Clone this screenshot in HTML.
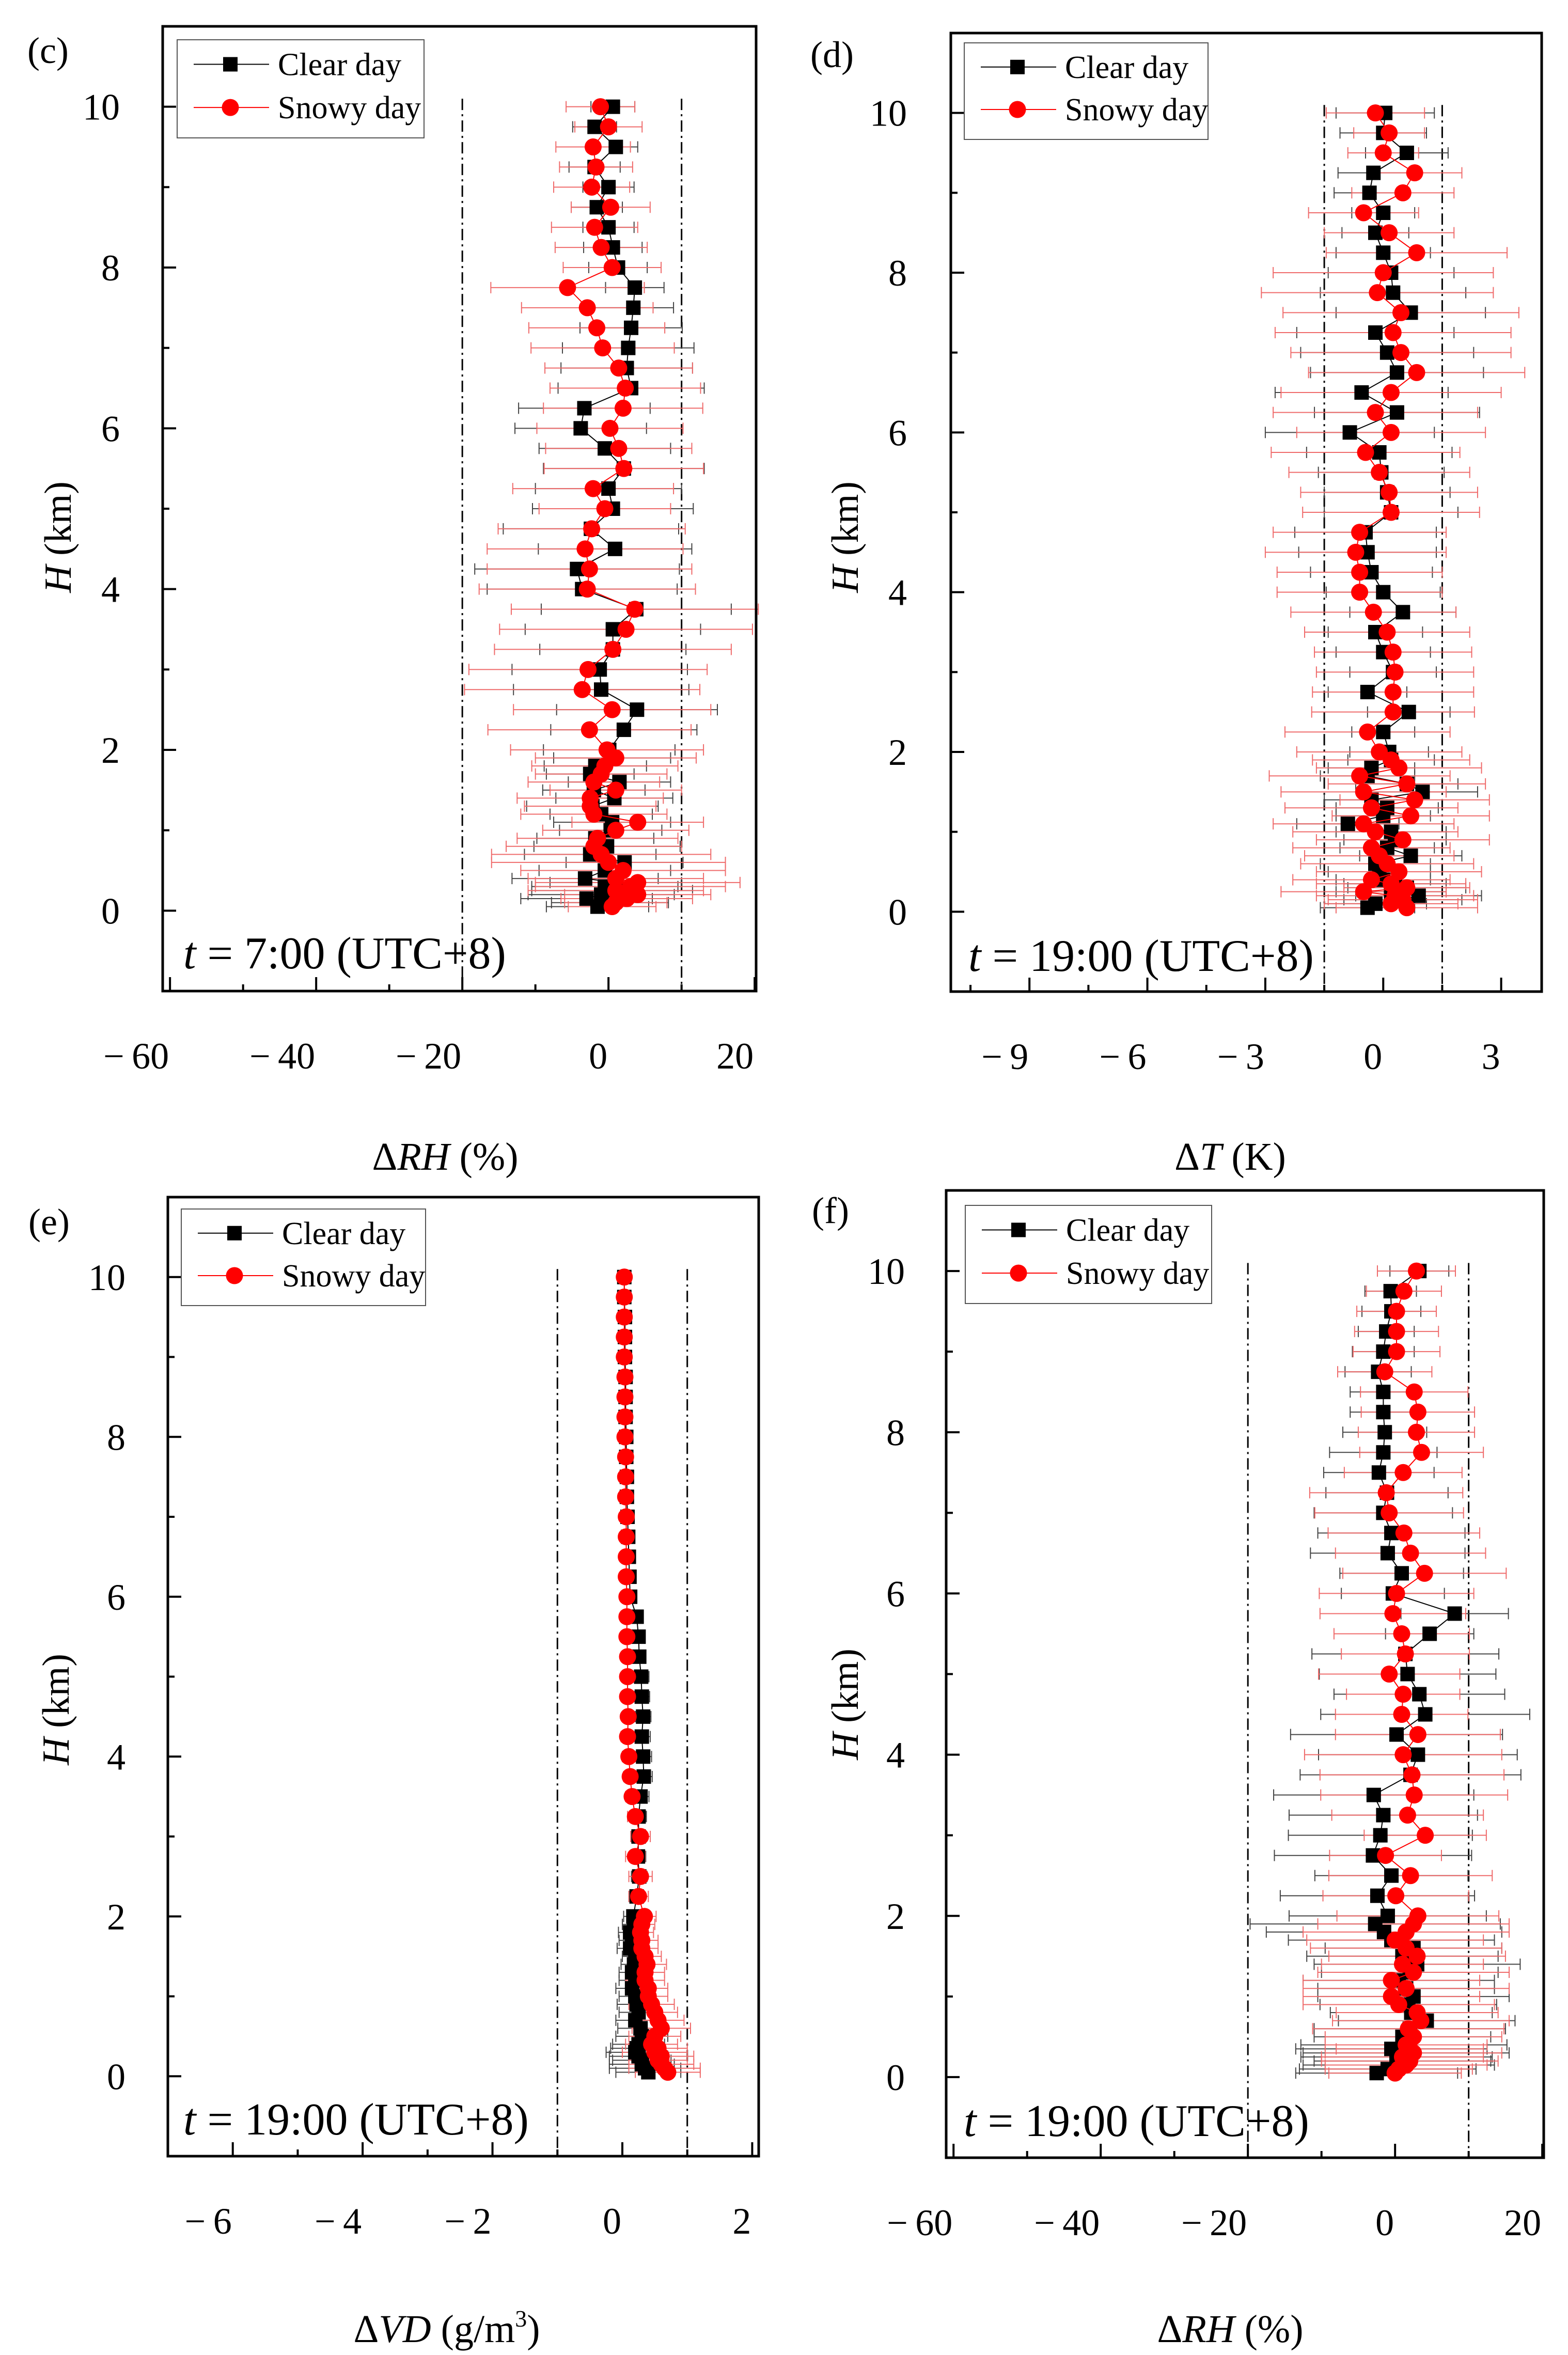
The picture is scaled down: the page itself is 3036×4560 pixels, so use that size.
<!DOCTYPE html>
<html><head><meta charset="utf-8"><style>
html,body{margin:0;padding:0;background:#fff}
svg{display:block}
text{font-family:"Liberation Serif",serif;fill:#000}
</style></head><body>
<svg id="fig" width="3036" height="4560" viewBox="0 0 3036 4560" xmlns="http://www.w3.org/2000/svg">
<rect width="3036" height="4560" fill="#fff"/>
</svg>
<script>
// Heights (km), shared by all series
const heights = [0.05,0.1,0.15,0.2,0.25,0.3,0.35,0.4,0.5,0.6,0.7,0.8,0.9,1.0,1.1,1.2,1.3,1.4,1.5,1.6,1.7,1.8,1.9,
 2.0,2.25,2.5,2.75,3.0,3.25,3.5,3.75,4.0,4.25,4.5,4.75,5.0,5.25,5.5,5.75,6.0,6.25,6.5,6.75,7.0,7.25,7.5,7.75,8.0,8.25,8.5,8.75,9.0,9.25,9.5,9.75,10.0];
const yTicks = [0,2,4,6,8,10];

// Panel (c): dRH 7:00
const cClear = [-1.5,0.2,-3,-1,0.5,-0.5,1,-3.2,-0.5,2.2,-2.5,-0.2,-1.8,0.3,0.5,-1,-2.2,0.8,-2,1.5,-2.5,-1.8,0.5,
 0.1,2.1,3.9,-1.0,-1.2,0.6,0.6,3.8,-3.6,-4.3,0.9,-2.4,0.6,0,2.1,-0.5,-3.8,-3.3,3.1,2.5,2.7,3.1,3.4,3.6,1.3,0.6,0,-1.6,0,-1.9,1.0,-1.9,0.6];
const cClearErr = [7,8,9,10,11,10,9,10,9,8,9,10,8,7,8,7,9,8,7,7,6,7,8,
 9,10,11,12,12,10,12,13,13,14,10.5,12,11,10,11,9,9,9,10,9,9,7,5.5,4,4,4,3.5,3.5,3.5,3.5,3,3,3];
const cSnowy = [0.5,1,2.5,4,1,3,4,1,2,0,-1,-2,-1.5,1,4,-2,-2.5,-2.5,1,-2,-1,-0.5,1,
 -0.2,-2.6,0.5,-3.6,-2.8,0.6,2.4,3.6,-2.9,-2.6,-3.2,-2.3,-0.5,-2.1,2.1,1.4,0.2,2.0,2.3,1.4,-0.8,-1.6,-2.9,-5.6,0.5,-1.0,-1.9,0.3,-2.3,-1.7,-2.1,0,-1.1];
const cSnowyErr = [6,7,9,10,12,13,14,12,14,16,15,12,11,10,9,10,9,10,9,9,9,10,11,
 13.2,13.9,13.5,16.1,16.3,16.2,17.3,16.9,14.8,14,13.4,12.8,9,11,10.9,10,10,10.9,10.3,10.1,9.8,9.3,9,10.5,6.7,6.3,5.9,5.4,5.2,5,5.1,4.6,4.7];
const cXTicks = [-60,-40,-20,0,20];

// Panel (d): dT 19:00
const dClear = [-0.4,-0.2,0.5,0.9,0.2,0.6,0.3,0,-0.1,-0.2,0.7,0.1,0.3,0.2,-0.9,0,0.1,-0.3,1.0,0.6,-0.4,-0.3,0.2,
 0.15,0,0.65,-0.4,0.25,0,-0.2,0.5,0,-0.3,-0.4,-0.45,0.2,0.1,-0.05,-0.1,-0.85,0.35,-0.55,0.35,0.1,-0.2,0.7,0.25,0.2,0,-0.2,0,-0.35,-0.25,0.6,0,0.05];
const dClearErr = [1.2,1.3,1.5,1.6,1.4,1.5,1.3,1.2,1.3,1.4,1.3,1.2,1.3,1.4,1.3,1.2,1.3,1.2,1.4,1.3,1.2,1.1,1.1,
 1.0,0.8,1.05,1,1.1,1.2,1.2,1.35,1.45,1.55,1.75,1.8,1.7,1.6,1.6,1.85,2.15,2.1,2.2,2.2,2.2,2,1.9,1.85,1.6,1.2,0.85,0.8,0.9,0.9,1.05,1.1,1.25];
const dSnowy = [0.6,0.2,0.5,0.3,-0.5,0.6,0.2,-0.3,0.4,0.1,-0.1,-0.3,0.5,-0.2,-0.5,0.7,-0.3,0.8,-0.5,0.6,-0.6,0.4,0.2,
 -0.1,-0.4,0.25,0.25,0.3,0.25,0.1,-0.25,-0.6,-0.6,-0.7,-0.6,0.2,0.15,-0.1,-0.45,0.2,-0.2,0.2,0.85,0.45,0.25,0.45,-0.15,0,0.85,0.15,-0.5,0.5,0.8,0,0.15,-0.2];
const dSnowyErr = [1.8,1.7,1.9,2.0,2.1,1.6,1.9,2.0,2.1,2.2,1.9,2.0,2.2,2.1,2.3,2.0,2.2,1.9,2.1,2.0,2.3,2.1,2.0,
 2.1,2.1,2.07,2.05,2,2,2.1,2.1,2.1,2.1,2.3,2.2,2.25,2.25,2.3,2.4,2.4,2.6,2.8,2.75,2.8,3,3,2.95,2.8,2.3,1.65,1.4,1.3,1.2,0.9,0.9,1.25];
const dXTicks = [-9,-6,-3,0,3];

// Panel (e): dVD 19:00
const eClear = [0.4,0.35,0.3,0.3,0.25,0.2,0.22,0.25,0.3,0.28,0.2,0.25,0.22,0.2,0.15,0.2,0.15,0.18,0.2,0.12,0.15,0.12,0.18,
 0.17,0.22,0.26,0.24,0.25,0.25,0.28,0.33,0.32,0.3,0.32,0.3,0.29,0.26,0.25,0.22,0.12,0.11,0.1,0.09,0.08,0.07,0.07,0.06,0.06,0.05,0.05,0.05,0.04,0.04,0.04,0.03,0.03];
const eClearErr = [0.5,0.55,0.5,0.45,0.45,0.45,0.4,0.4,0.4,0.35,0.3,0.3,0.3,0.25,0.25,0.25,0.2,0.2,0.2,0.2,0.2,0.18,0.18,
 0.15,0.12,0.12,0.12,0.12,0.12,0.13,0.13,0.13,0.13,0.12,0.12,0.12,0.1,0.09,0.08,0.05,0.04,0.04,0.03,0.03,0.03,0.02,0.02,0.02,0.02,0.02,0.02,0.02,0.02,0.02,0.02,0.02];
const eSnowy = [0.7,0.65,0.6,0.55,0.6,0.5,0.55,0.45,0.5,0.6,0.55,0.5,0.45,0.4,0.4,0.35,0.35,0.38,0.35,0.3,0.3,0.28,0.3,
 0.34,0.25,0.28,0.2,0.28,0.2,0.15,0.12,0.1,0.08,0.09,0.08,0.08,0.08,0.07,0.07,0.07,0.06,0.06,0.06,0.06,0.05,0.05,0.05,0.04,0.04,0.04,0.04,0.03,0.03,0.03,0.03,0.03];
const eSnowyErr = [0.5,0.55,0.5,0.45,0.5,0.5,0.45,0.4,0.4,0.45,0.4,0.35,0.35,0.3,0.3,0.3,0.3,0.3,0.25,0.25,0.25,0.2,0.2,
 0.18,0.15,0.18,0.15,0.15,0.12,0.1,0.1,0.1,0.1,0.09,0.08,0.07,0.06,0.05,0.05,0.04,0.04,0.04,0.03,0.03,0.03,0.03,0.02,0.02,0.02,0.02,0.02,0.02,0.02,0.02,0.02,0.02];
const eXTicks = [-6,-4,-2,0,2];

// Panel (f): dRH 19:00
const fClear = [-2.5,-1,0.5,1,0.2,1.5,-0.5,1.2,1,2,4.3,2.2,1.8,2.5,1.5,0.5,2,3,1,2.5,-0.5,-1.5,-2.7,
 -1,-2.4,-0.5,-3,-2,-1.6,-2.9,2.1,3.1,0.2,4.1,3.3,1.7,1.4,4.7,8.1,-0.3,0.9,-1,-0.5,-1.6,-1.1,-2.2,-1.6,-1.4,-1.6,-1.6,-2.3,-1.6,-1.2,-0.5,-0.6,3.3];
const fClearErr = [11,12,13,12,13,14,13,14,12,13,12,11,12,13,12,13,12,14,13,12,14,16,17,
 13.4,13.2,10.4,13.4,12.5,12.8,13.6,15,13.5,14.4,14.2,11.6,12,12.7,6,7.3,7,8.4,10.5,10,9.4,8.3,7.5,7.3,5.7,4.5,4.5,4.5,4.2,3.8,4,3.5,4];
const fSnowy = [0,0.5,1.5,2,1,2.5,2,1.5,2.5,1.8,3.5,3,0.5,-0.5,1.5,-0.5,2.5,1,3,1.5,0,1.5,2.5,
 3.1,0.1,2.1,-1.3,4.1,1.7,2.6,2.3,1.1,3.1,0.9,1.1,-0.8,1.4,0.9,-0.3,0.2,4,2.1,1.2,-0.8,-1.2,1.1,3.6,2.9,3.1,2.6,-1.4,0.2,0.2,0.2,1.2,2.9];
const fSnowyErr = [9,10,11,12,11,12,10,11,12,13,12,11,13,12,14,12,13,11,12,13,12,14,13,
 11,9.9,11.1,7.6,8.3,10.3,12.7,12.5,13.4,11.2,9,7.7,9.6,8.7,9.2,9.9,10.5,11.1,10.2,10.3,10.1,10.4,8,8.4,7.9,7.7,7.3,6.4,5.9,5.7,5.4,5.1,5.3];
const fXTicks = [-60,-40,-20,0,20];

const NS = "http://www.w3.org/2000/svg";
const svg = document.getElementById('fig');
function mk(tag, attrs, parent){const e=document.createElementNS(NS,tag);for(const k in attrs)e.setAttribute(k,attrs[k]);(parent||svg).appendChild(e);return e;}

const panels = [
 {id:'c',L:315,R:1464,T:51,B:1919,xmin:-61,xmax:20.2,minorStep:10,vlines:[-20,10],ticks:cXTicks,clear:cClear,clearErr:cClearErr,snowy:cSnowy,snowyErr:cSnowyErr,
  letter:'(c)',lx:53,ly:122,tlabel:'7:00 (UTC+8)',tx:355,ty:1875,title:['Δ','RH',' (%)'],titx:862,tity:2265,hx:112,hy:1040,leg:[343,77,821,267],ylabR:232},
 {id:'d',L:1841,R:2985,T:64,B:1920,xmin:-11,xmax:4.03,minorStep:1.5,vlines:[-1.5,1.5],ticks:dXTicks,clear:dClear,clearErr:dClearErr,snowy:dSnowy,snowyErr:dSnowyErr,
  letter:'(d)',lx:1569,ly:130,tlabel:'19:00 (UTC+8)',tx:1875,ty:1880,title:['Δ','T',' (K)'],titx:2382,tity:2265,hx:1636,hy:1040,leg:[1867,83,2339,270],ylabR:1756},
 {id:'e',L:325,R:1469,T:2318,B:4175,xmin:-7,xmax:2.1,minorStep:1,vlines:[-1,1],ticks:eXTicks,clear:eClear,clearErr:eClearErr,snowy:eSnowy,snowyErr:eSnowyErr,
  letter:'(e)',lx:55,ly:2390,tlabel:'19:00 (UTC+8)',tx:355,ty:4133,title:['Δ','VD',' (g/m'],titx:865,tity:4535,hx:108,hy:3310,leg:[351,2341,824,2528],ylabR:243},
 {id:'f',L:1832,R:2989,T:2305,B:4178,xmin:-61,xmax:20.2,minorStep:10,vlines:[-20,10],ticks:fXTicks,clear:fClear,clearErr:fClearErr,snowy:fSnowy,snowyErr:fSnowyErr,
  letter:'(f)',lx:1572,ly:2368,tlabel:'19:00 (UTC+8)',tx:1866,ty:4136,title:['Δ','RH',' (%)'],titx:2382,tity:4535,hx:1636,hy:3300,leg:[1869,2334,2346,2524],ylabR:1752}
];

panels.forEach(p=>{
 const g = mk('g',{});
 
 
 const ymin=-1,ymax=11;
 const X = v => p.L + (v-p.xmin)/(p.xmax-p.xmin)*(p.R-p.L);
 const Y = v => p.B - (v-ymin)/(ymax-ymin)*(p.B-p.T);

 p.vlines.forEach((v,i)=>{
  const l = mk('line',{x1:X(v),x2:X(v),y1:Y(10.1),y2:p.B,stroke:'#000','stroke-width':3,'stroke-dasharray':'22,8,4,8'},g);
  
  
 });

 function errBars(vals, errs, color, name){
  const eg = mk('g',{stroke:color,'stroke-width':2,fill:'none'},g);
  
  
  const n=Math.min(vals.length,errs.length,heights.length);
  for(let i=0;i<n;i++){
   const y=Y(heights[i]), x1=X(vals[i]-errs[i]), x2=X(vals[i]+errs[i]);
   mk('line',{x1:x1,x2:x2,y1:y,y2:y},eg);
   mk('line',{x1:x1,x2:x1,y1:y-11,y2:y+11},eg);
   mk('line',{x1:x2,x2:x2,y1:y-11,y2:y+11},eg);
  }
 }
 errBars(p.clear,p.clearErr,'#444','clear-day-error-bars');
 errBars(p.snowy,p.snowyErr,'#ef6b6b','snowy-day-error-bars');

 function series(vals, color, shape, name){
  const n=Math.min(vals.length,heights.length);
  let d='';
  for(let i=0;i<n;i++) d+=(i?'L':'M')+X(vals[i]).toFixed(1)+','+Y(heights[i]).toFixed(1);
  const pl = mk('path',{d:d,stroke:color,'stroke-width':2,fill:'none'},g);
  
  
  const mg = mk('g',{fill:color},g);
  
  
  for(let i=0;i<n;i++){
   const x=X(vals[i]), y=Y(heights[i]);
   if(shape==='sq') mk('rect',{x:x-14,y:y-14,width:28,height:28},mg);
   else mk('circle',{cx:x,cy:y,r:16.5},mg);
  }
 }
 series(p.clear,'#000','sq','clear-day');
 series(p.snowy,'#ff0000','ci','snowy-day');

 const fr = mk('rect',{x:p.L,y:p.T,width:p.R-p.L,height:p.B-p.T,fill:'none',stroke:'#000','stroke-width':5},g);
 
 

 const yax = mk('g',{},g);
 
 
 for(let v=0;v<=10;v++){
  const y=Y(v), major=(v%2===0);
  mk('line',{x1:p.L,x2:p.L+(major?26:13),y1:y,y2:y,stroke:'#000','stroke-width':4},yax);
 }
 yTicks.forEach(v=>{
  const t=mk('text',{x:p.ylabR,y:Y(v)+25,'text-anchor':'end','font-size':72},yax);
  t.textContent=String(v);
 });
 const xax = mk('g',{},g);
 
 
 const step=p.minorStep;
 for(let v=p.ticks[0]-step; v<=p.xmax+1e-9; v+=step){
  if(v<p.xmin) continue;
  const major = p.ticks.some(t=>Math.abs(t-v)<1e-6);
  mk('line',{x1:X(v),x2:X(v),y1:p.B,y2:p.B-(major?27:13),stroke:'#000','stroke-width':4},xax);
 }
 p.ticks.forEach(v=>{
  const t=mk('text',{x:X(v)-2,y:p.B+150,'text-anchor':'end','font-size':72},xax);
  t.textContent = v<0 ? '\u2212\u2009'+Math.abs(v) : String(v);
 });

 const lt = mk('text',{x:p.lx,y:p.ly,'font-size':72},g);
 lt.textContent=p.letter;
 
 

 const tl = mk('text',{x:p.tx,y:p.ty,'font-size':88},g);
 
 
 const ti = mk('tspan',{'font-style':'italic'},tl); ti.textContent='t';
 const tr = mk('tspan',{},tl); tr.textContent=' = '+p.tlabel;

 const yt = mk('text',{x:p.hx,y:p.hy,'font-size':74,'text-anchor':'middle',transform:'rotate(-90 '+p.hx+' '+p.hy+')',dy:25},g);
 
 
 const h1=mk('tspan',{'font-style':'italic'},yt); h1.textContent='H';
 const h2=mk('tspan',{},yt); h2.textContent=' (km)';

 const xt = mk('text',{x:p.titx,y:p.tity,'font-size':76,'text-anchor':'middle'},g);
 
 
 const a1=mk('tspan',{},xt); a1.textContent=p.title[0];
 const a2=mk('tspan',{'font-style':'italic'},xt); a2.textContent=p.title[1];
 const a3=mk('tspan',{},xt); a3.textContent=p.title[2];
 if(p.id==='e'){
  const a4=mk('tspan',{'font-size':46,dy:-30},xt); a4.textContent='3';
  const a5=mk('tspan',{dy:30},xt); a5.textContent=')';
 }

 const [lx1,ly1,lx2,ly2]=p.leg;
 const lg = mk('g',{},g);
 
 
 mk('rect',{x:lx1,y:ly1,width:lx2-lx1,height:ly2-ly1,fill:'#fff',stroke:'#555','stroke-width':2},lg);
 const rows=[['Clear day','#000','sq'],['Snowy day','#ff0000','ci']];
 rows.forEach((r,i)=>{
  const e = mk('g',{},lg);
  
  
  const yy = ly1 + (ly2-ly1)*(i===0?0.25:0.69);
  mk('line',{x1:lx1+32,x2:lx1+178,y1:yy,y2:yy,stroke:r[1],'stroke-width':2},e);
  if(r[2]==='sq') mk('rect',{x:lx1+103-14,y:yy-14,width:28,height:28,fill:r[1]},e);
  else mk('circle',{cx:lx1+103,cy:yy,r:16.5,fill:r[1]},e);
  const tt = mk('text',{x:lx1+195,y:yy+21,'font-size':62},e);
  tt.textContent=r[0];
 });
});
</script>
</body></html>
